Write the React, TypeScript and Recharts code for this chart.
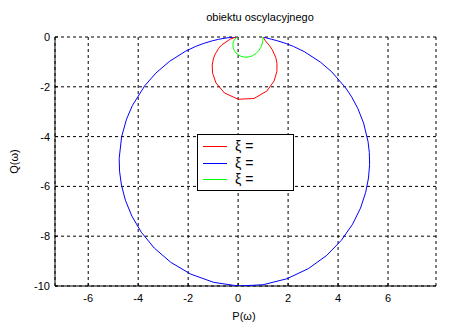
import React from 'react';
import { ScatterChart, Scatter, XAxis, YAxis, CartesianGrid } from 'recharts';

// Nyquist curves P(ω), Q(ω)
const blueCurve = [
  { x: 1, y: 0 }, { x: 1.327, y: -0.089 }, { x: 1.549, y: -0.145 }, { x: 1.925, y: -0.264 },
  { x: 2.22, y: -0.381 }, { x: 2.647, y: -0.588 }, { x: 3.294, y: -1.009 }, { x: 3.745, y: -1.398 },
  { x: 4.299, y: -2.036 }, { x: 4.544, y: -2.405 }, { x: 4.791, y: -2.87 }, { x: 5.022, y: -3.457 },
  { x: 5.2, y: -4.199 }, { x: 5.251, y: -4.638 }, { x: 5.262, y: -5.127 }, { x: 5.218, y: -5.664 },
  { x: 5.103, y: -6.249 }, { x: 4.898, y: -6.872 }, { x: 4.581, y: -7.518 }, { x: 4.134, y: -8.163 },
  { x: 3.545, y: -8.772 }, { x: 2.812, y: -9.302 }, { x: 1.952, y: -9.709 }, { x: 0.998, y: -9.95 },
  { x: 0, y: -10 }, { x: -0.983, y: -9.852 }, { x: -1.895, y: -9.524 }, { x: -2.695, y: -9.05 },
  { x: -3.357, y: -8.475 }, { x: -3.874, y: -7.843 }, { x: -4.253, y: -7.194 }, { x: -4.512, y: -6.557 },
  { x: -4.67, y: -5.951 }, { x: -4.746, y: -5.39 }, { x: -4.761, y: -4.877 }, { x: -4.662, y: -3.998 },
  { x: -4.466, y: -3.298 }, { x: -4.228, y: -2.744 }, { x: -3.737, y: -1.957 }, { x: -3.293, y: -1.45 },
  { x: -2.751, y: -0.981 }, { x: -2.115, y: -0.577 }, { x: -1.694, y: -0.376 }, { x: -1.4, y: -0.264 },
  { x: -1.02, y: -0.149 }, { x: -0.789, y: -0.095 }, { x: -0.525, y: -0.047 }, { x: -0.332, y: -0.022 },
  { x: -0.125, y: -0.005 }, { x: -0.067, y: -0.002 }, { x: -0.01, y: 0 },
];

const redCurve = [
  { x: 1, y: 0 }, { x: 1.08, y: -0.142 }, { x: 1.245, y: -0.332 }, { x: 1.37, y: -0.514 },
  { x: 1.507, y: -0.827 }, { x: 1.555, y: -1.066 }, { x: 1.552, y: -1.379 }, { x: 1.441, y: -1.765 },
  { x: 1.147, y: -2.173 }, { x: 0.633, y: -2.469 }, { x: 0, y: -2.5 }, { x: -0.548, y: -2.247 },
  { x: -0.883, y: -1.851 }, { x: -1.022, y: -1.458 }, { x: -1.038, y: -1.132 }, { x: -0.993, y: -0.883 },
  { x: -0.924, y: -0.697 }, { x: -0.777, y: -0.453 }, { x: -0.65, y: -0.312 }, { x: -0.311, y: -0.083 },
  { x: -0.122, y: -0.018 }, { x: -0.041, y: -0.003 }, { x: -0.01, y: 0 },
];

const greenCurve = [
  { x: 1, y: 0 }, { x: 0.99, y: -0.14 }, { x: 0.96, y: -0.28 }, { x: 0.906, y: -0.418 },
  { x: 0.824, y: -0.549 }, { x: 0.713, y: -0.665 }, { x: 0.574, y: -0.753 }, { x: 0.418, y: -0.803 },
  { x: 0.26, y: -0.809 }, { x: 0.117, y: -0.776 }, { x: 0, y: -0.714 }, { x: -0.087, y: -0.638 },
  { x: -0.146, y: -0.557 }, { x: -0.194, y: -0.445 }, { x: -0.209, y: -0.352 }, { x: -0.201, y: -0.239 },
  { x: -0.178, y: -0.166 }, { x: -0.098, y: -0.051 }, { x: -0.038, y: -0.011 }, { x: -0.01, y: -0.001 },
];

const xTicks = [-6, -4, -2, 0, 2, 4, 6];
const yTicks = [-10, -8, -6, -4, -2, 0];
const xDomain = [-7.33, 7.92];
const yDomain = [-10, 0];

const titleText = 'obiektu oscylacyjnego';
const xLabelText = 'P(ω)';
const yLabelText = 'Q(ω)';

const legendLabels = ['ξ =', 'ξ =', 'ξ ='];
const legendColors = ['#ff0000', '#0000ff', '#00ff00'];

const FONT = '"Liberation Sans", Arial, Helvetica, sans-serif';

const NoShape = () => <g />;

export default function App() {
  return (
    <div style={{ position: 'absolute', left: 0, top: 0, width: 461, height: 330, background: '#fff', fontFamily: FONT }}>
      <ScatterChart width={461} height={330} margin={{ top: 37, right: 25, bottom: 0, left: 0 }}>
        <CartesianGrid stroke="#000" strokeDasharray="3 3" strokeWidth={1} />
        <XAxis
          type="number"
          dataKey="x"
          domain={xDomain}
          ticks={xTicks}
          allowDataOverflow
          height={44}
          axisLine={{ stroke: '#000' }}
          tickLine={{ stroke: '#000' }}
          tickSize={-3}
          tickMargin={11}
          tick={{ fill: '#000', fontSize: 11, fontFamily: FONT }}
          label={{
            content: () => (
              <text x={244} y={320} textAnchor="middle" fontSize={11} fontFamily={FONT} fill="#000">
                {xLabelText}
              </text>
            ),
          }}
        />
        <YAxis
          type="number"
          dataKey="y"
          domain={yDomain}
          ticks={yTicks}
          allowDataOverflow
          width={55}
          axisLine={{ stroke: '#000' }}
          tickLine={{ stroke: '#000' }}
          tickSize={-3}
          tickMargin={8}
          tick={{ fill: '#000', fontSize: 11, fontFamily: FONT }}
          label={{
            content: () => (
              <g>
                <text
                  x={18}
                  y={161.5}
                  transform="rotate(-90 18 161.5)"
                  textAnchor="middle"
                  fontSize={11}
                  fontFamily={FONT}
                  fill="#000"
                >
                  {yLabelText}
                </text>
                <text x={260} y={20.5} textAnchor="middle" fontSize={11} fontFamily={FONT} fill="#000">
                  {titleText}
                </text>
              </g>
            ),
          }}
        />
        <Scatter data={blueCurve} line={{ stroke: '#0000ff', strokeWidth: 1 }} shape={NoShape} isAnimationActive={false} />
        <Scatter data={redCurve} line={{ stroke: '#ff0000', strokeWidth: 1 }} shape={NoShape} isAnimationActive={false} />
        <Scatter data={greenCurve} line={{ stroke: '#00ff00', strokeWidth: 1 }} shape={NoShape} isAnimationActive={false} />
      </ScatterChart>
      <svg
        width={97}
        height={57}
        style={{ position: 'absolute', left: 197, top: 134 }}
      >
        <rect x={0.5} y={0.5} width={96} height={56} fill="#fff" stroke="#000" strokeWidth={1} />
        {legendLabels.map((lab, i) => {
          const cy = 12 + i * 16.5;
          const ly = Math.round(cy) + 0.5;
          return (
            <g key={i}>
              <line x1={6} x2={30} y1={ly} y2={ly} stroke={legendColors[i]} strokeWidth={1} />
              <text x={38} y={cy + 5} fontSize={14} fontFamily={FONT} fill="#000">
                {lab}
              </text>
            </g>
          );
        })}
      </svg>
    </div>
  );
}
